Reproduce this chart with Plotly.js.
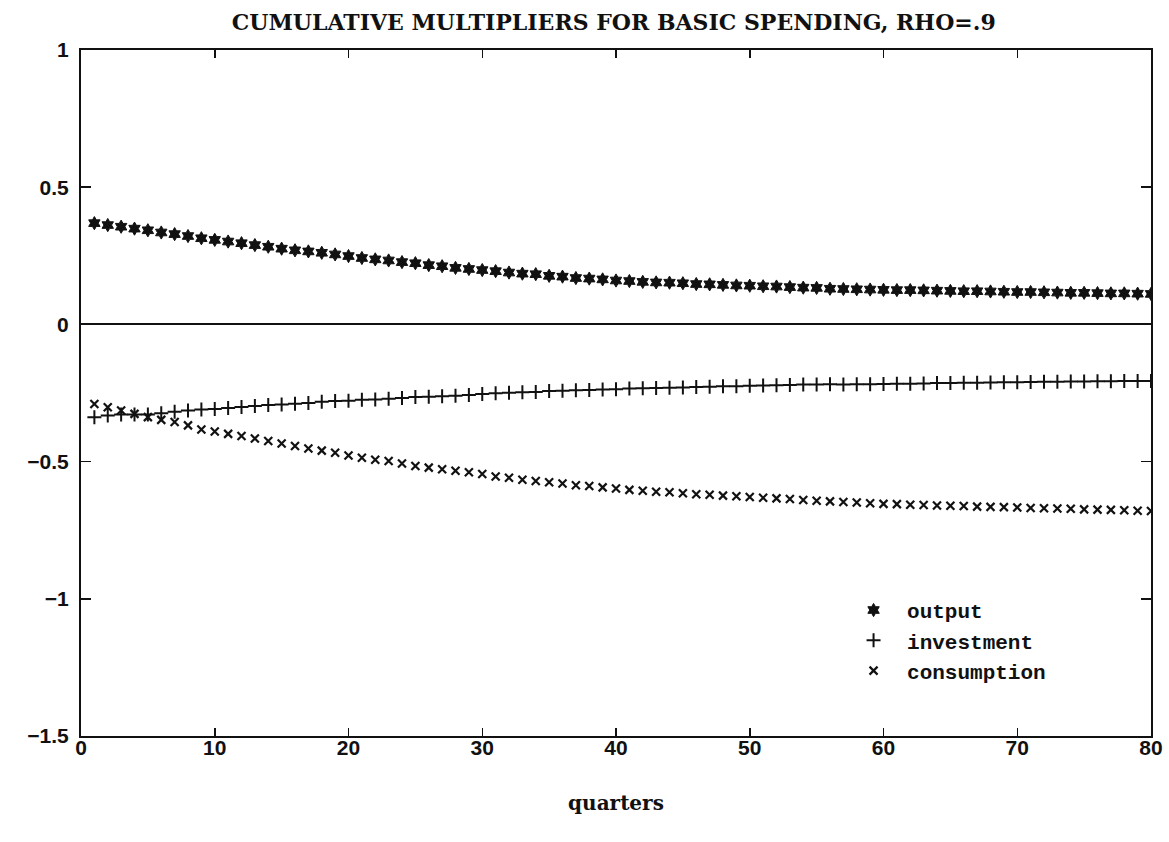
<!DOCTYPE html>
<html>
<head>
<meta charset="utf-8">
<script src="https://cdn.plot.ly/plotly-3.0.1.min.js"></script>
<style>
  html, body { margin: 0; padding: 0; background: #ffffff; }
  #chart { width: 1169px; height: 842px; }
</style>
</head>
<body>
<div id="chart"></div>
<script>
// Cumulative multipliers, quarters 1..80
const quarters = Array.from({length: 80}, (_, i) => i + 1);

const output = [
  0.369, 0.362, 0.356, 0.349, 0.343, 0.335, 0.329, 0.322, 0.314, 0.308,
  0.302, 0.296, 0.289, 0.283, 0.276, 0.270, 0.266, 0.261, 0.255, 0.249,
  0.242, 0.237, 0.233, 0.227, 0.223, 0.216, 0.212, 0.206, 0.202, 0.198,
  0.194, 0.189, 0.185, 0.183, 0.177, 0.174, 0.169, 0.167, 0.164, 0.160,
  0.158, 0.155, 0.153, 0.152, 0.150, 0.147, 0.146, 0.144, 0.142, 0.141,
  0.139, 0.138, 0.136, 0.134, 0.133, 0.130, 0.129, 0.128, 0.127, 0.126,
  0.125, 0.125, 0.124, 0.123, 0.122, 0.121, 0.121, 0.120, 0.119, 0.118,
  0.118, 0.117, 0.116, 0.115, 0.115, 0.114, 0.113, 0.113, 0.112, 0.111
];

const investment = [
  -0.338, -0.332, -0.328, -0.328, -0.328, -0.324, -0.318, -0.314, -0.310, -0.308,
  -0.305, -0.301, -0.297, -0.294, -0.292, -0.289, -0.286, -0.282, -0.279, -0.278,
  -0.275, -0.274, -0.271, -0.268, -0.265, -0.264, -0.262, -0.260, -0.257, -0.254,
  -0.251, -0.249, -0.247, -0.246, -0.243, -0.242, -0.240, -0.239, -0.237, -0.236,
  -0.234, -0.233, -0.232, -0.231, -0.230, -0.228, -0.227, -0.225, -0.225, -0.224,
  -0.223, -0.222, -0.221, -0.219, -0.219, -0.218, -0.219, -0.218, -0.218, -0.217,
  -0.216, -0.216, -0.215, -0.214, -0.214, -0.213, -0.213, -0.212, -0.211, -0.211,
  -0.210, -0.209, -0.209, -0.208, -0.208, -0.207, -0.207, -0.206, -0.206, -0.206
];

const consumption = [
  -0.290, -0.302, -0.314, -0.326, -0.338, -0.348, -0.356, -0.368, -0.383, -0.390,
  -0.399, -0.407, -0.416, -0.425, -0.434, -0.443, -0.452, -0.460, -0.468, -0.478,
  -0.486, -0.493, -0.498, -0.507, -0.516, -0.522, -0.528, -0.533, -0.539, -0.545,
  -0.554, -0.559, -0.566, -0.571, -0.575, -0.580, -0.586, -0.589, -0.594, -0.598,
  -0.603, -0.606, -0.610, -0.612, -0.615, -0.619, -0.621, -0.624, -0.626, -0.629,
  -0.632, -0.634, -0.636, -0.640, -0.643, -0.645, -0.647, -0.649, -0.652, -0.654,
  -0.655, -0.657, -0.658, -0.660, -0.661, -0.662, -0.664, -0.665, -0.666, -0.667,
  -0.669, -0.670, -0.671, -0.672, -0.674, -0.675, -0.676, -0.677, -0.679, -0.680
];

const xTicks = [0, 10, 20, 30, 40, 50, 60, 70, 80];
const yTicks = [1, 0.5, 0, -0.5, -1, -1.5];
const yTickText = ['1', '0.5', '0', '\u22120.5', '\u22121', '\u22121.5'];

const ink = '#111111';

const traces = [
  {
    x: quarters, y: output, name: 'output', type: 'scatter', mode: 'markers',
    marker: { symbol: 'hexagram', size: 10, color: ink, line: { color: ink, width: 1 } }
  },
  {
    x: quarters, y: investment, name: 'investment', type: 'scatter', mode: 'markers',
    marker: { symbol: 'cross-thin-open', size: 10, color: ink, line: { color: ink, width: 2 } }
  },
  {
    x: quarters, y: consumption, name: 'consumption', type: 'scatter', mode: 'markers',
    marker: { symbol: 'x-thin-open', size: 8, color: ink, line: { color: ink, width: 2.2 } }
  }
];

const layout = {
  width: 1169,
  height: 842,
  paper_bgcolor: '#ffffff',
  plot_bgcolor: '#ffffff',
  margin: { l: 81, r: 18, t: 50, b: 106 },
  showlegend: true,
  title: {
    text: 'CUMULATIVE MULTIPLIERS FOR BASIC SPENDING, RHO=.9',
    font: { family: 'DejaVu Serif', size: 22, color: ink, weight: 'bold' },
    x: 0.525, xanchor: 'center', y: 0.974, yanchor: 'middle'
  },
  xaxis: {
    range: [0, 80],
    tickvals: xTicks,
    ticktext: xTicks.map(String),
    ticks: 'inside', ticklen: 8, tickwidth: 1.5, tickcolor: ink,
    showline: true, linecolor: ink, linewidth: 2, mirror: 'ticks',
    showgrid: false, zeroline: false,
    tickfont: { family: 'Liberation Sans', size: 21, color: ink, weight: 'bold' },
    ticklabelstandoff: -8,
    title: {
      text: 'quarters',
      font: { family: 'DejaVu Serif', size: 20, color: ink, weight: 'bold' },
      standoff: 38
    }
  },
  yaxis: {
    range: [-1.5, 1],
    tickvals: yTicks,
    ticktext: yTickText,
    ticks: 'inside', ticklen: 10, tickwidth: 1.5, tickcolor: ink,
    showline: true, linecolor: ink, linewidth: 2, mirror: 'ticks',
    showgrid: false,
    zeroline: true, zerolinecolor: ink, zerolinewidth: 1.8,
    tickfont: { family: 'Liberation Sans', size: 21, color: ink, weight: 'bold' },
    ticklabelstandoff: 6
  },
  legend: {
    x: 0.7094, y: 0.213, xanchor: 'left', yanchor: 'top',
    bgcolor: 'rgba(0,0,0,0)', borderwidth: 0,
    tracegroupgap: 0, itemwidth: 57,
    font: { family: 'Liberation Mono', size: 21, color: ink, weight: 'bold' }
  }
};

Plotly.newPlot('chart', traces, layout, { displayModeBar: false, staticPlot: true });
</script>
</body>
</html>
